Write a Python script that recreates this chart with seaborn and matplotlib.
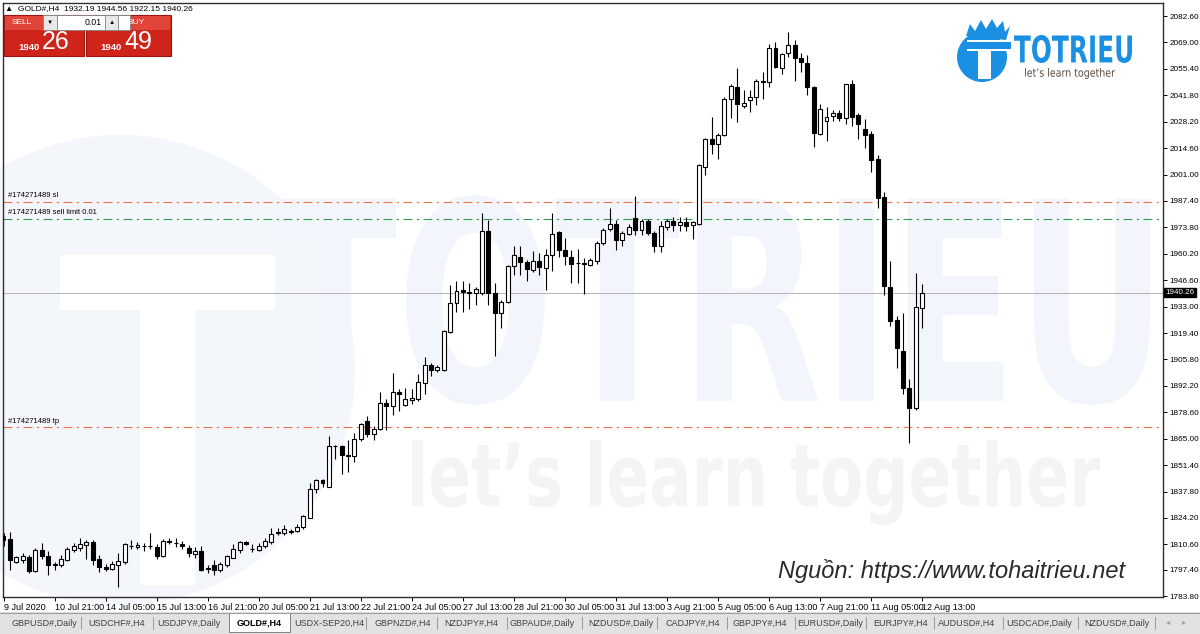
import numpy as np
import pandas as pd
import matplotlib
matplotlib.use("Agg")
import matplotlib.pyplot as plt
import seaborn as sns
from matplotlib.patches import Rectangle, Circle, PathPatch, Polygon
from matplotlib.textpath import TextPath
from matplotlib.font_manager import FontProperties
from matplotlib.transforms import Affine2D

# GOLD#, H4 - gia doc tu hinh
opens = [1815.0, 1813.6, 1801.6, 1802.3, 1804.2, 1797.0, 1807.8, 1804.7, 1800.3, 1800.2,
         1802.8, 1807.8, 1808.8, 1810.3, 1812.0, 1803.3, 1799.2, 1797.8, 1800.0, 1801.3,
         1809.5, 1809.0, 1809.6, 1809.8, 1809.3, 1804.7, 1812.4, 1811.3, 1811.0, 1808.9,
         1805.5, 1807.3, 1798.0, 1800.0, 1797.3, 1800.1, 1803.8, 1807.6, 1812.0, 1808.3,
         1807.6, 1809.8, 1811.6, 1816.4, 1816.2, 1817.3, 1817.5, 1819.6, 1824.4, 1839.3,
         1843.6, 1840.3, 1861.0, 1861.2, 1856.2, 1856.1, 1865.0, 1874.1, 1867.2, 1869.8,
         1883.2, 1881.8, 1889.2, 1882.2, 1885.0, 1885.2, 1893.8, 1902.8, 1900.3, 1900.6,
         1919.8, 1934.9, 1941.8, 1940.0, 1940.2, 1940.1, 1972.1, 1940.1, 1929.8, 1935.2,
         1953.7, 1958.4, 1955.8, 1952.1, 1956.6, 1953.0, 1959.8, 1971.4, 1962.0, 1958.4,
         1955.5, 1955.3, 1954.6, 1956.3, 1965.7, 1973.1, 1975.4, 1967.5, 1970.4, 1978.6,
         1972.6, 1977.2, 1970.9, 1964.0, 1973.8, 1976.9, 1975.2, 1976.4, 1974.9, 1975.5,
         2005.1, 2019.2, 2016.7, 2021.4, 2039.9, 2046.3, 2036.3, 2039.4, 2041.1, 2048.5,
         2048.8, 2066.3, 2056.0, 2063.4, 2067.7, 2060.9, 2058.3, 2046.3, 2021.8, 2028.6,
         2030.9, 2032.6, 2030.0, 2047.5, 2031.7, 2024.5, 2021.8, 2009.1, 1989.2, 1943.0,
         1926.3, 1910.4, 1891.2, 1880.9, 1932.19]
highs = [1816.5, 1816.9, 1804.5, 1806.0, 1805.0, 1808.5, 1811.2, 1807.3, 1801.6, 1804.9,
         1809.0, 1811.2, 1814.0, 1813.0, 1813.0, 1804.9, 1800.3, 1802.0, 1806.4, 1811.5,
         1812.6, 1812.0, 1811.2, 1816.2, 1810.7, 1813.3, 1814.0, 1813.7, 1812.2, 1810.2,
         1809.3, 1809.5, 1800.0, 1802.5, 1801.5, 1805.0, 1811.0, 1812.4, 1812.3, 1811.0,
         1811.3, 1814.0, 1819.2, 1819.2, 1820.5, 1818.3, 1820.9, 1825.7, 1842.4, 1844.5,
         1844.5, 1866.3, 1861.5, 1861.5, 1864.3, 1868.0, 1873.3, 1876.6, 1871.5, 1889.0,
         1885.2, 1898.6, 1890.7, 1891.0, 1890.5, 1898.2, 1907.0, 1904.0, 1902.8, 1921.0,
         1944.3, 1946.0, 1946.0, 1945.3, 1943.2, 1981.3, 1977.8, 1944.9, 1936.6, 1954.6,
         1964.0, 1964.0, 1957.0, 1961.4, 1960.5, 1962.8, 1981.2, 1972.0, 1968.5, 1962.0,
         1962.5, 1958.0, 1957.8, 1966.6, 1973.4, 1983.8, 1977.8, 1971.8, 1975.5, 1989.7,
         1978.0, 1978.0, 1972.0, 1977.0, 1978.0, 1979.2, 1979.0, 1979.2, 1977.0, 2006.4,
         2019.8, 2030.8, 2022.3, 2041.0, 2047.4, 2055.7, 2044.3, 2044.3, 2050.0, 2053.6,
         2068.0, 2069.2, 2063.4, 2074.5, 2070.2, 2063.5, 2062.4, 2046.5, 2037.2, 2035.8,
         2034.2, 2034.2, 2047.7, 2049.7, 2032.5, 2029.4, 2023.4, 2011.2, 1992.0, 1956.3,
         1928.0, 1929.8, 1895.6, 1950.3, 1944.56]
lows = [1810.0, 1797.2, 1801.0, 1801.0, 1796.0, 1796.5, 1803.0, 1794.8, 1797.4, 1799.0,
        1802.0, 1806.6, 1807.0, 1803.0, 1800.0, 1796.5, 1796.8, 1797.2, 1788.6, 1800.5,
        1808.1, 1808.0, 1807.0, 1808.0, 1803.2, 1804.0, 1810.8, 1809.2, 1808.0, 1803.9,
        1803.5, 1797.0, 1796.1, 1795.0, 1796.5, 1799.0, 1803.5, 1806.4, 1810.5, 1806.7,
        1807.0, 1808.9, 1810.8, 1815.5, 1815.5, 1816.0, 1817.0, 1818.5, 1824.0, 1837.0,
        1840.0, 1840.0, 1854.7, 1846.7, 1848.0, 1853.0, 1864.0, 1866.0, 1864.3, 1869.5,
        1869.5, 1877.0, 1879.5, 1881.9, 1883.0, 1884.5, 1888.0, 1897.5, 1899.5, 1899.8,
        1919.5, 1930.0, 1930.0, 1931.8, 1934.0, 1939.0, 1933.6, 1907.5, 1922.0, 1934.6,
        1949.5, 1949.5, 1946.0, 1950.8, 1949.3, 1941.4, 1951.5, 1958.5, 1954.6, 1945.0,
        1945.0, 1939.7, 1954.0, 1955.0, 1964.9, 1972.0, 1962.0, 1964.0, 1970.0, 1970.0,
        1970.0, 1970.0, 1961.0, 1961.0, 1972.6, 1972.0, 1972.0, 1972.0, 1967.6, 1975.0,
        2000.9, 2011.5, 2009.0, 2021.0, 2030.0, 2028.0, 2035.0, 2033.0, 2037.0, 2040.0,
        2046.0, 2055.8, 2052.9, 2061.6, 2049.0, 2054.0, 2042.0, 2015.4, 2021.4, 2018.3,
        2028.4, 2028.4, 2027.0, 2026.0, 2019.4, 2014.8, 2002.3, 1983.8, 1939.2, 1922.9,
        1901.5, 1887.8, 1863.0, 1880.0, 1922.15]
closes = [1813.0, 1802.3, 1803.9, 1804.4, 1796.7, 1807.8, 1804.4, 1800.0, 1800.0, 1803.3,
          1808.1, 1809.9, 1811.0, 1812.0, 1802.6, 1799.0, 1797.8, 1800.3, 1802.1, 1810.7,
          1809.9, 1810.4, 1809.8, 1809.6, 1804.6, 1812.3, 1811.6, 1811.1, 1809.5, 1805.9,
          1807.2, 1797.5, 1798.4, 1797.3, 1800.5, 1804.4, 1808.1, 1811.6, 1810.9, 1808.0,
          1810.0, 1812.4, 1816.1, 1816.7, 1818.4, 1817.1, 1819.6, 1825.0, 1839.3, 1843.6,
          1842.4, 1861.2, 1861.2, 1856.4, 1856.4, 1865.0, 1872.4, 1867.2, 1870.1, 1883.2,
          1881.8, 1889.0, 1888.2, 1885.2, 1885.8, 1894.1, 1902.8, 1900.3, 1902.0, 1920.3,
          1934.9, 1941.2, 1940.4, 1940.2, 1942.3, 1971.7, 1940.0, 1929.8, 1935.2, 1953.7,
          1959.7, 1955.8, 1952.6, 1956.3, 1953.4, 1959.8, 1970.4, 1962.0, 1958.9, 1955.1,
          1955.3, 1955.1, 1957.0, 1965.7, 1972.6, 1975.4, 1967.5, 1970.9, 1974.0, 1972.6,
          1976.9, 1970.9, 1964.0, 1974.3, 1976.9, 1975.2, 1976.6, 1974.7, 1976.4, 2006.0,
          2019.2, 2016.7, 2021.4, 2039.9, 2046.6, 2037.2, 2037.7, 2041.1, 2049.2, 2049.2,
          2066.3, 2056.2, 2062.9, 2067.7, 2060.9, 2058.8, 2046.3, 2022.3, 2034.8, 2030.8,
          2032.6, 2030.0, 2047.5, 2030.8, 2026.9, 2021.4, 2008.6, 1988.9, 1943.5, 1925.5,
          1911.8, 1891.2, 1880.9, 1932.7, 1940.26]

# nhan truc thoi gian (moi 8 nen H4)
time_labels = ["9 Jul 2020", "10 Jul 21:00", "14 Jul 05:00", "15 Jul 13:00", "16 Jul 21:00",
               "20 Jul 05:00", "21 Jul 13:00", "22 Jul 21:00", "24 Jul 05:00", "27 Jul 13:00",
               "28 Jul 21:00", "30 Jul 05:00", "31 Jul 13:00", "3 Aug 21:00", "5 Aug 05:00",
               "6 Aug 13:00", "7 Aug 21:00", "11 Aug 05:00", "12 Aug 13:00"]

# nhan truc gia (doc tu hinh)
price_ticks = [2082.60, 2069.00, 2055.40, 2041.80, 2028.20, 2014.60, 2001.00, 1987.40,
               1973.80, 1960.20, 1946.60, 1933.00, 1919.40, 1905.80, 1892.20, 1878.60,
               1865.00, 1851.40, 1837.80, 1824.20, 1810.60, 1797.40, 1783.80]

# lenh dang mo
order_labels = ["#174271489 sl", "#174271489 sell limit 0.01", "#174271489 tp"]
order_prices = [1987.0, 1978.3, 1870.8]
order_colors = ["#f0704a", "#2f9a50", "#f0704a"]
last_price = 1940.26
ohlc_header = [1932.19, 1944.56, 1922.15, 1940.26]

tab_names = ["GBPUSD#,Daily", "USDCHF#,H4", "USDJPY#,Daily", "GOLD#,H4", "USDX-SEP20,H4",
             "GBPNZD#,H4", "NZDJPY#,H4", "GBPAUD#,Daily", "NZDUSD#,Daily", "CADJPY#,H4",
             "GBPJPY#,H4", "EURUSD#,Daily", "EURJPY#,H4", "AUDUSD#,H4", "USDCAD#,Daily",
             "NZDUSD#,Daily"]
tab_centers = [44, 117, 189, 259, 329, 403, 471, 542, 621, 693, 760, 830, 901, 967, 1039, 1117]

W, H = 1200, 634

sns.set_theme(style="white")
plt.rcParams["font.family"] = ["Liberation Sans", "DejaVu Sans"]

df = pd.DataFrame({"open": opens, "high": highs, "low": lows, "close": closes})
df["bar"] = np.arange(len(df))
up = df["close"] >= df["open"]
body_lo = df[["open", "close"]].min(axis=1)
body_h = (df["close"] - df["open"]).abs().clip(lower=0.35)

fig = plt.figure(figsize=(W / 100, H / 100), dpi=100)
fig.patch.set_facecolor("white")

# lop nen (watermark)
bg = fig.add_axes([0, 0, 1, 1], zorder=0)
bg.set_xlim(0, W)
bg.set_ylim(H, 0)
bg.axis("off")

# lop tren (header, tab, logo)
top = fig.add_axes([0, 0, 1, 1], zorder=2)
top.set_xlim(0, W)
top.set_ylim(H, 0)
top.axis("off")
top.patch.set_alpha(0)


def fit_text(axo, s, box, color, weight="bold", z=1):
    x0, y0, x1, y1 = box
    tp = TextPath((0, 0), s, size=100, prop=FontProperties(family="DejaVu Sans", weight=weight))
    bb = tp.get_extents()
    tr = Affine2D().translate(-bb.x0, -bb.y0).scale((x1 - x0) / bb.width, -(y1 - y0) / bb.height).translate(x0, y1)
    axo.add_patch(PathPatch(tr.transform_path(tp), facecolor=color, edgecolor="none", zorder=z))


# watermark mo
bg.add_patch(Circle((120, 370), 235, facecolor="#f3f6fb", edgecolor="none"))
bg.add_patch(Rectangle((60, 255), 215, 55, facecolor="white", edgecolor="none"))
bg.add_patch(Rectangle((140, 255), 55, 330, facecolor="white", edgecolor="none"))
fit_text(bg, "TOTRIEU", (272, 195, 1150, 405), "#f2f6fc")
fit_text(bg, "let\u2019s learn together", (412, 440, 1100, 525), "#f4f4f4")

ax = fig.add_axes([3 / W, 1 - 597 / H, 1160 / W, 594 / H], zorder=1)
ax.patch.set_alpha(0)

# nen nen
ax.vlines(df["bar"], df["low"], df["high"], color="black", lw=0.8, zorder=2)
ax.bar(df["bar"][up], body_h[up], bottom=body_lo[up], width=0.62,
       color="white", edgecolor="black", linewidth=0.8, zorder=3)
ax.bar(df["bar"][~up], body_h[~up], bottom=body_lo[~up], width=0.62,
       color="black", edgecolor="black", linewidth=0.8, zorder=3)

# muc gia lenh
for lbl, p, c in zip(order_labels, order_prices, order_colors):
    ax.axhline(p, color=c, lw=0.8, linestyle=(0, (8, 4, 2, 4)), zorder=1)
    ax.text(0.0045, p + 1.2, lbl, transform=ax.get_yaxis_transform(), fontsize=5.5,
            color="black", va="bottom", ha="left")
ax.axhline(last_price, color="#b8b8b8", lw=0.75, zorder=1)
ax.text(1.0022, last_price, f"{last_price:.2f}", transform=ax.get_yaxis_transform(),
        fontsize=5.8, color="white", va="center", ha="left",
        bbox=dict(facecolor="black", edgecolor="black", pad=1.0))

ax.set_xlim(-0.08, 181.74)
ax.set_ylim(1783.5, 2089.3)
ax.yaxis.tick_right()
ax.set_yticks(price_ticks)
ax.set_yticklabels([f"{v:.2f}" for v in price_ticks])
ax.set_xticks(np.arange(len(time_labels)) * 8)
ax.set_xticklabels(time_labels)
for t in ax.get_xticklabels():
    t.set_ha("left")
ax.tick_params(axis="y", which="both", right=True, left=False, direction="out",
               length=3, width=0.7, pad=1.5, labelsize=5.9, colors="black")
ax.tick_params(axis="x", which="both", bottom=True, direction="out",
               length=3, width=0.7, pad=1.5, labelsize=6.5, colors="black")
for sp in ax.spines.values():
    sp.set_color("#303030")
    sp.set_linewidth(1.0)
ax.grid(False)

# header + bang SELL/BUY
top.text(5, 9, "\u25B2  GOLD#,H4  " + " ".join(f"{v:.2f}" for v in ohlc_header),
         fontsize=6, va="center", ha="left", color="black")
for x0, x1, lab, lx, small, big in [(4, 84, "SELL", 22, "1940", "26"), (86, 171, "BUY", 136, "1940", "49")]:
    top.add_patch(Rectangle((x0, 15), x1 - x0, 41, facecolor="#cf2419", edgecolor="#9c150e", lw=0.8))
    top.add_patch(Rectangle((x0 + 1, 16), x1 - x0 - 2, 14, facecolor="#e0453a", edgecolor="none"))
    top.text(lx, 23, lab, fontsize=6, color="white", ha="center", va="center")
    top.text(x0 + 36, 47.5, small, fontsize=6.8, color="white", ha="right", va="center", fontweight="bold")
    top.text(x0 + 38, 42, big, fontsize=18, color="white", ha="left", va="center")
top.add_patch(Rectangle((43, 15), 87, 15, facecolor="white", edgecolor="#808080", lw=0.6))
top.add_patch(Rectangle((43, 15), 14, 15, facecolor="#e8e8e8", edgecolor="#808080", lw=0.6))
top.add_patch(Rectangle((105, 15), 13, 15, facecolor="#e8e8e8", edgecolor="#808080", lw=0.6))
top.text(50, 22.5, "\u25BC", fontsize=4.5, ha="center", va="center", color="black")
top.text(111.5, 22.5, "\u25B2", fontsize=4.5, ha="center", va="center", color="black")
top.text(102, 22.5, "0.01", fontsize=6.3, ha="right", va="center", color="black")

# logo TOTRIEU
logo_blue = "#1b8fe2"
top.add_patch(Circle((982, 57), 25, facecolor=logo_blue, edgecolor="none"))
top.add_patch(Polygon([(966, 36), (970, 24), (975, 31), (981, 20), (986, 29), (992, 19),
                       (997, 28), (1003, 21), (1005, 32), (1010, 26), (1006, 40)],
                      closed=True, facecolor=logo_blue, edgecolor="none"))
top.add_patch(Rectangle((967, 40), 45, 11, facecolor="white", edgecolor="none"))
top.add_patch(Rectangle((978, 40), 13, 39, facecolor="white", edgecolor="none"))
top.add_patch(Rectangle((967, 42), 44, 7, facecolor=logo_blue, edgecolor="none"))
fit_text(top, "TOTRIEU", (1014, 35, 1132, 63), logo_blue)
fit_text(top, "let\u2019s learn together", (1025, 68, 1115, 79), "#5b4a3c", weight="normal")

# nguon
top.text(778, 571, "Ngu\u1ed3n: https://www.tohaitrieu.net", fontsize=17, style="italic",
         color="#2a2a2a", ha="left", va="center", family=["Liberation Sans", "DejaVu Sans"])

# thanh tab
top.add_patch(Rectangle((0, 612), W, 22, facecolor="#e2e2e2", edgecolor="none"))
top.plot([0, W], [612.5, 612.5], color="#a0a0a0", lw=0.8)
for i, (name, cx) in enumerate(zip(tab_names, tab_centers)):
    if name == "GOLD#,H4":
        top.add_patch(Rectangle((229, 613), 61, 19, facecolor="white", edgecolor="#808080", lw=0.7))
        top.text(cx, 623, name, fontsize=6.5, ha="center", va="center", color="black", fontweight="bold")
    else:
        top.text(cx, 623, name, fontsize=6.5, ha="center", va="center", color="#404040")
    if i < len(tab_centers) - 1 and name != "GOLD#,H4" and tab_names[i + 1] != "GOLD#,H4":
        sx = (cx + tab_centers[i + 1]) / 2
        top.plot([sx, sx], [617, 629], color="#9a9a9a", lw=0.7)
top.plot([1155, 1155], [617, 629], color="#9a9a9a", lw=0.7)
top.text(1168, 623, "\u25C2", fontsize=6, ha="center", va="center", color="#a0a0a0")
top.text(1184, 623, "\u25B8", fontsize=6, ha="center", va="center", color="#a0a0a0")

fig.savefig("out.png", dpi=100)
